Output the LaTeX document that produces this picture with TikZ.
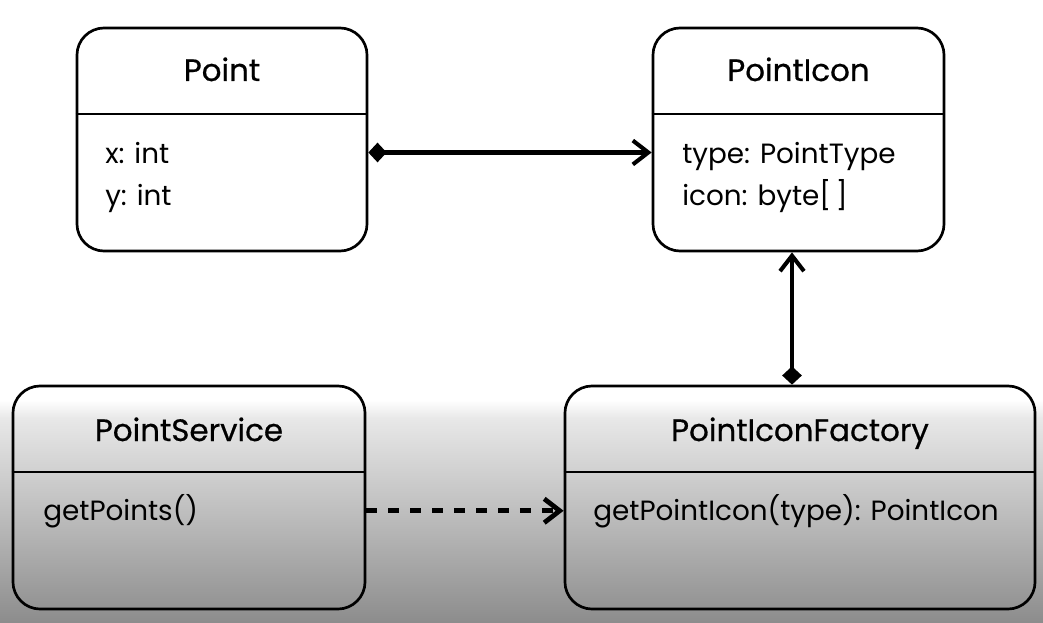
\documentclass[tikz,border=0pt]{standalone}
\usepackage{fontspec}
\setmainfont{Poppins}
\newfontfamily\titlefont[FakeBold=0.6]{Poppins}
\usepackage{xcolor}
\usepackage{tikz}
\usetikzlibrary{arrows.meta, positioning}

\begin{document}
\begin{tikzpicture}[
    x=0.025cm, y=-0.025cm,
    box/.style={draw, rounded corners=0.68cm, line width=1.9pt, minimum height=5.575cm},
    divider/.style={line width=1.9pt},
    title/.style={anchor=base, font=\titlefont\fontsize{22}{26}\selectfont},
    attr/.style={anchor=base west, inner sep=0pt, font=\fontsize{19.8}{23}\selectfont},
    comp/.style={line width=2.9pt, {Diamond[length=13pt, width=14pt]}-{Straight Barb[length=11pt, width=17pt]}},
    dep/.style={line width=3.4pt, dash pattern=on 7.8pt off 7.8pt, -{Straight Barb[length=11pt, width=17pt]}}
]

% background
\useasboundingbox (0,0) rectangle (1043,623);
\fill[white] (0,0) rectangle (1043,623);
\shade[top color=white, bottom color=black!9] (0,400) rectangle (1043,418);
\shade[top color=black!9, bottom color=black!45] (0,418) rectangle (1043,623);

% classes
\node[box, minimum width=7.25cm] (point) at (222,139.5) {};
\node[box, minimum width=7.275cm] (pointIcon) at (798.5,139.5) {};
\node[box, minimum width=8.8cm] (service) at (189,497.5) {};
\node[box, minimum width=11.75cm] (factory) at (800,497.5) {};

\node[title] (pointTitle) at (222,81) {Point};
\node[title] (pointIconTitle) at (798.5,81) {PointIcon};
\node[title] (serviceTitle) at (189,441) {PointService};
\node[title] (factoryTitle) at (800,441) {PointIconFactory};

\draw[divider] (point.west |- 0,114) -- (point.east |- 0,114);
\draw[divider] (pointIcon.west |- 0,114) -- (pointIcon.east |- 0,114);
\draw[divider] (service.west |- 0,472) -- (service.east |- 0,472);
\draw[divider] (factory.west |- 0,472) -- (factory.east |- 0,472);

\node[attr] (pointX) at (105,163) {x: int};
\node[attr] (pointY) at (105,205) {y: int};
\node[attr] (pointIconType) at (682,163) {type: PointType};
\node[attr] (pointIconIcon) at (682,205) {icon: byte[\,]};
\node[attr] (serviceOps) at (43,520) {getPoints()};
\node[attr] (factoryOps) at (593,520) {getPointIcon(type): PointIcon};

% relations
\draw[comp] (point.east |- pointX) -- (pointIcon.west |- pointX);
\draw[comp] ([xshift=-0.2cm]factory.north) -- ([xshift=-0.2cm]factory.north |- pointIcon.south);
\draw[dep] (service.east |- serviceOps) -- (factory.west |- serviceOps);

\end{tikzpicture}
\end{document}
